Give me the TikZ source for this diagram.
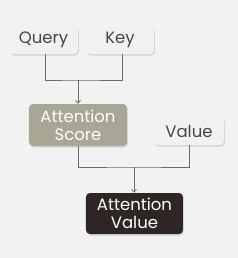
\documentclass[tikz,border=0pt]{standalone}
\usepackage{fontspec}
\setmainfont{Poppins}
\usetikzlibrary{shadows,arrows.meta}
\definecolor{bg}{HTML}{F2F2F2}
\definecolor{lightbox}{HTML}{F1F1F1}
\definecolor{scorebox}{HTML}{A8A695}
\definecolor{darkbox}{HTML}{2E2624}
\definecolor{txt}{HTML}{454545}
\definecolor{linec}{HTML}{6A6A6A}
\tikzset{
  basebox/.style={rounded corners=4pt, inner sep=0pt, align=center,
    font=\fontsize{16.5}{18}\selectfont,
    drop shadow={opacity=0.25, shadow xshift=1pt, shadow yshift=-1.5pt}},
  lightnode/.style={basebox, fill=lightbox, text=txt},
  scorenode/.style={basebox, fill=scorebox, text=white},
  darknode/.style={basebox, fill=darkbox, text=white},
  conn/.style={draw=linec, line width=0.7pt},
  arr/.style={conn, -{Straight Barb[length=3pt,width=5pt]}}
}
\begin{document}
\begin{tikzpicture}[x=1pt,y=1pt]
\fill[bg] (0,0) rectangle (238,258);
\useasboundingbox (0,0) rectangle (238,258);
\node[lightnode, minimum width=69pt, minimum height=28pt] (q) at (43.5,218) {Query};
\node[lightnode, minimum width=68pt, minimum height=28pt] (k) at (120,218) {Key};
\node[scorenode, minimum width=98pt, minimum height=42pt] (s) at (78,133) {Attention\\Score};
\node[lightnode, minimum width=70pt, minimum height=28pt] (v) at (189,127) {Value};
\node[darknode, minimum width=97pt, minimum height=41pt] (av) at (134.5,44.5) {Attention\\Value};
\coordinate (j1) at (78,178);
\coordinate (j2) at (134,91);
\draw[conn] (q.south -| 45,0) |- (j1) -| (k.south -| 122,0);
\draw[arr] (j1) -- (s.north);
\draw[conn] (s.south) |- (j2) -| (v.south);
\draw[arr] (j2) -- (av.north -| j2);
\end{tikzpicture}
\end{document}
